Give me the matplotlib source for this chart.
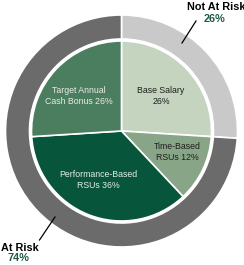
import matplotlib
matplotlib.use('Agg')
import matplotlib.pyplot as plt

plt.rcParams['font.family'] = ['Liberation Sans', 'DejaVu Sans']

# inner pie: pay elements (clockwise from 12 o'clock)
pay_labels = ['Base Salary\n26%', 'Time-Based\nRSUs 12%', 'Performance-Based\nRSUs 36%',
              'Target Annual\nCash Bonus 26%']
pay_values = [26, 12, 36, 26]
pay_colors = ['#c5d4bf', '#88a687', '#07553a', '#4b7d5f']
pay_text_colors = ['#1e1e1e', '#1e1e1e', '#e6ece6', '#e6ece6']

# outer ring: risk split
risk_labels = ['Not At Risk', 'At Risk']
risk_values = [26, 74]
risk_colors = ['#c9c9c9', '#6b6b6b']
pct_color = '#1f5b45'

W, H = 244, 265
fig = plt.figure(figsize=(W / 100, H / 100), dpi=100)
ax = fig.add_axes([0, 0, 1, 1])

cx, cy = 121.5, H - 131

ax.pie(risk_values, startangle=90, counterclock=False, radius=116, center=(cx, cy),
       colors=risk_colors, wedgeprops=dict(width=24, edgecolor='white', linewidth=1.2))
ax.pie(pay_values, startangle=90, counterclock=False, radius=90, center=(cx, cy),
       colors=pay_colors, wedgeprops=dict(edgecolor='white', linewidth=1.2))

# label positions (pixels from top-left)
pay_pos = [(161, 96), (177, 152), (98, 180), (79, 96)]
for lab, (x, y), c in zip(pay_labels, pay_pos, pay_text_colors):
    ax.text(x, H - y, lab, ha='center', va='center', fontsize=6.3, color=c,
            linespacing=1.3)

# Not At Risk callout
ax.text(216, H - 7, risk_labels[0], ha='center', va='center', fontsize=7.8,
        fontweight='bold', color='black')
ax.text(214, H - 19.5, f'{risk_values[0]}%', ha='center', va='center', fontsize=7.8,
        fontweight='bold', color=pct_color)
ax.plot([182, 196], [H - 43, H - 21], color='black', lw=0.9)

# At Risk callout
ax.text(19.5, H - 248, risk_labels[1], ha='center', va='center', fontsize=7.8,
        fontweight='bold', color='black')
ax.text(18, H - 258, f'{risk_values[1]}%', ha='center', va='center', fontsize=7.8,
        fontweight='bold', color=pct_color)
ax.plot([55, 39.5], [H - 217, H - 240], color='black', lw=0.9)

ax.set_xlim(0, W)
ax.set_ylim(0, H)
ax.set_aspect('equal')
ax.axis('off')

fig.savefig('out.png', dpi=100)
